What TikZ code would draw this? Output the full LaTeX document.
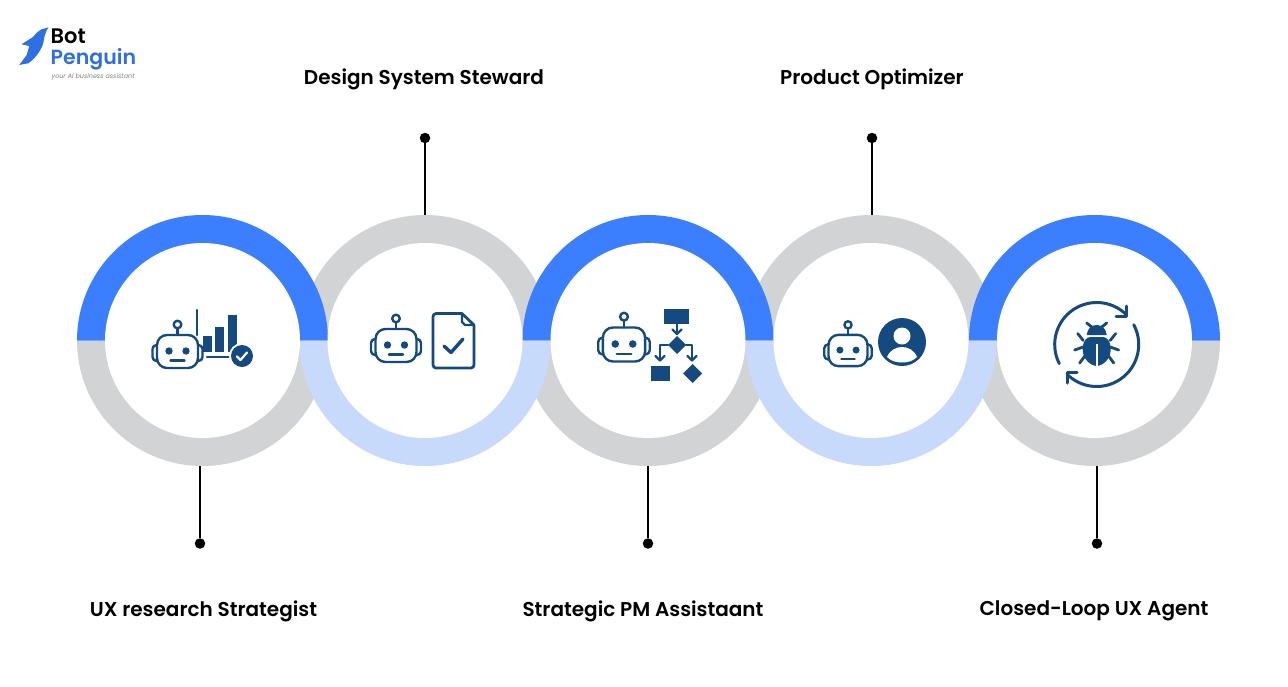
\documentclass[tikz,border=0pt]{standalone}
\usepackage{fontspec}
\setmainfont{Poppins}
\newfontfamily\labfont{Poppins SemiBold}
\newfontfamily\logofont{Poppins SemiBold}
\newfontfamily\tagfont{Poppins}[ItalicFont=* Italic]
\definecolor{ringblue}{HTML}{3B7FFF}
\definecolor{ringlight}{HTML}{C8DAFC}
\definecolor{ringgray}{HTML}{D1D3D4}
\definecolor{iconblue}{HTML}{154A80}
\definecolor{logoblue}{HTML}{2F6FE4}
\tikzset{
  ringfill/.style={fill=#1,draw=none},
  innerdisc/.style={circle,fill=white,draw=none,minimum size=195pt,inner sep=0pt},
  pin/.style={circle,fill=black,draw=none,minimum size=10.5pt,inner sep=0pt},
  pinline/.style={draw=black,line width=1.9pt},
  lab/.style={font=\labfont\fontsize{20}{24}\selectfont,text=black,inner sep=0pt,anchor=center},
  iconline/.style={draw=iconblue,line width=2.4pt,line join=round,line cap=round},
  iconfill/.style={fill=iconblue,draw=none},
  bugline/.style={draw=iconblue,line width=3pt,line cap=round,line join=round},
  logotext/.style={inner sep=0pt,anchor=west}
}
\newcommand{\robotat}[3]{% x, head centre y, scale
  \begin{scope}[shift={(#1,#2)},scale=#3]
    \draw[iconline,rounded corners=4pt] (-20.5,-6.5) -- (-25,-6.5) -- (-25,9.5) -- (-20.5,9.5);
    \draw[iconline,rounded corners=4pt] (20.5,-6.5) -- (25,-6.5) -- (25,9.5) -- (20.5,9.5);
    \draw[iconline,rounded corners=10pt] (-20.5,-16.5) rectangle (20.5,16.5);
    \draw[iconline] (0,-16.5) -- (0,-23);
    \draw[iconline] (0,-27) circle[radius=3.8];
    \fill[iconblue] (-8.5,-0.5) circle[radius=3.7];
    \fill[iconblue] (8.5,-0.5) circle[radius=3.7];
    \draw[iconline] (-7,9) -- (7,9);
  \end{scope}
}
\begin{document}
\begin{tikzpicture}[x=1pt,y=-1pt]
\useasboundingbox[fill=white] (0,0) rectangle (1288,686);

% gray halves: lower of rings 1,3,5 and upper of rings 2,4
\foreach \c in {202.5,648,1094.5}{
  \fill[ringfill=ringgray] (\c-125.5,340.5) arc[start angle=180,end angle=0,radius=125.5] -- cycle;
}
\foreach \c in {425,871}{
  \fill[ringfill=ringgray] (\c-125.5,340.5) arc[start angle=180,end angle=360,radius=125.5] -- cycle;
}
% coloured halves on top
\foreach \c in {202.5,648,1094.5}{
  \fill[ringfill=ringblue] (\c-125.5,340.5) arc[start angle=180,end angle=360,radius=125.5] -- cycle;
}
\foreach \c in {425,871}{
  \fill[ringfill=ringlight] (\c-125.5,340.5) arc[start angle=180,end angle=0,radius=125.5] -- cycle;
}
% inner discs
\node[innerdisc] (r1) at (202.5,340.5) {};
\node[innerdisc] (r2) at (425,340.5) {};
\node[innerdisc] (r3) at (648,340.5) {};
\node[innerdisc] (r4) at (871,340.5) {};
\node[innerdisc] (r5) at (1094.5,340.5) {};

% pins and connectors
\node[pin] (d1) at (200,543.5) {};
\node[pin] (d2) at (425,138) {};
\node[pin] (d3) at (648,543.5) {};
\node[pin] (d4) at (872,138) {};
\node[pin] (d5) at (1097,543.5) {};
\coordinate (e1) at (200,466);
\coordinate (e2) at (425,215);
\coordinate (e3) at (648,466);
\coordinate (e4) at (872,215);
\coordinate (e5) at (1097,466);
\draw[pinline] (d1) -- (e1);
\draw[pinline] (d2) -- (e2);
\draw[pinline] (d3) -- (e3);
\draw[pinline] (d4) -- (e4);
\draw[pinline] (d5) -- (e5);

% labels
\node[lab] (t1) at (203.5,611) {UX research Strategist};
\node[lab] (t2) at (424,79) {Design System Steward};
\node[lab] (t3) at (643,611) {Strategic PM Assistaant};
\node[lab] (t4) at (872,79) {Product Optimizer};
\node[lab] (t5) at (1094,611) {Closed-Loop UX Agent};

% logo
\fill[logoblue] (48.5,27.3) -- (41.7,29.3) .. controls (38,31) and (35,34.5) .. (33,37) -- (21.5,44.3) -- (29.3,46) -- (26.7,55) -- (19.3,65) -- (28.3,63.3) .. controls (33,60) and (40,53) .. (43,44) .. controls (44.5,38) and (44,34) .. (48.5,27.3) -- cycle;
\node[logotext,font=\labfont\fontsize{21}{24}\selectfont,text=black] (lg1) at (50.5,36) {Bot};
\node[logotext,font=\logofont\fontsize{20.5}{24}\selectfont,text=logoblue] (lg2) at (50.5,59) {Penguin};
\node[logotext,font=\tagfont\itshape\fontsize{6.4}{8}\selectfont,text=gray] (lg3) at (51.5,76.5) {your AI business assistant};

% icon 1
\robotat{177.5}{351.5}{1}
\draw[iconline] (197,310) -- (197,335);
\fill[iconfill] (203,336) rectangle (212,352);
\fill[iconfill] (215,327) rectangle (224,352);
\fill[iconfill] (228,315) rectangle (237,352);
\draw[iconline] (207,357) -- (229,357);
\fill[white] (242,356) circle[radius=13];
\fill[iconfill] (242,356) circle[radius=11];
\draw[draw=white,line width=2.2pt,line cap=round,line join=round] (237,356.5) -- (240.5,360) -- (247,352.5);

% icon 2
\robotat{396}{345.5}{1}
\draw[iconline,line width=2.7pt,rounded corners=3pt] (462,313.5) -- (433,313.5) -- (433,368) -- (474,368) -- (474,325);
\draw[iconline,line width=2.7pt] (462,313.5) -- (474,325);
\draw[iconline] (462,313.5) -- (462,322) -- (465,325) -- (474,325);
\draw[draw=iconblue,line width=3.4pt,line cap=round,line join=round] (444,346) -- (451,352.5) -- (463,339);

% icon 3
\robotat{624}{344.5}{1.03}
\fill[iconfill] (664,309) rectangle (689,324);
\draw[iconline,line cap=butt] (677,324) -- (677,333);
\draw[iconline] (672.5,329.5) -- (677,334) -- (681.5,329.5);
\fill[iconfill] (677,336) -- (686,345) -- (677,354) -- (668,345) -- cycle;
\draw[iconline] (668,345) -- (660,345) -- (660,360);
\draw[iconline] (655.5,356) -- (660,360.5) -- (664.5,356);
\draw[iconline] (686,345) -- (692,345) -- (692,360);
\draw[iconline] (687.5,356) -- (692,360.5) -- (696.5,356);
\fill[iconfill] (651,366) rectangle (670,381);
\fill[iconfill] (692.5,364) -- (702,373.5) -- (692.5,383) -- (683,373.5) -- cycle;

% icon 4
\robotat{848}{350.5}{0.95}
\fill[iconfill] (902,342) circle[radius=24];
\fill[white] (902,336) circle[radius=8.5];
\fill[white] (887,357) .. controls (890,350) and (896,347) .. (902,347) .. controls (908,347) and (914,350) .. (917,357) .. controls (913,361) and (908,362.5) .. (902,362.5) .. controls (896,362.5) and (891,361) .. (887,357) -- cycle;

% icon 5: cycle arrows
\begin{scope}[shift={(1096.7,344.5)}]
  \draw[bugline] (153:42) arc[start angle=153,end angle=316,radius=42];
  \draw[bugline] (-28:42) arc[start angle=-28,end angle=133,radius=42];
  \draw[bugline] (29.3,-38.5) -- (29.3,-28.5) -- (19.3,-28.5);
  \draw[bugline] (-29.7,38.5) -- (-29.7,27.5) -- (-19.7,27.5);
  % bug
  \fill[iconblue] (-14,5) .. controls (-14,-4) and (-10,-7.5) .. (-6,-7.5) -- (6,-7.5) .. controls (10,-7.5) and (14,-4) .. (14,5) .. controls (14,14) and (7,21) .. (0,21.5) .. controls (-7,21) and (-14,14) .. (-14,5) -- cycle;
  \draw[draw=white,line width=2pt] (0,-1) -- (0,23);
  \fill[iconblue] (-10,-9.5) .. controls (-9.5,-16) and (-5,-19.5) .. (0,-19.5) .. controls (5,-19.5) and (9.5,-16) .. (10,-9.5) -- cycle;
  \draw[bugline,line width=2.8pt] (-10,-21.5) -- (-5,-17.5);
  \draw[bugline,line width=2.8pt] (10,-21.5) -- (5,-17.5);
  \draw[bugline,line width=2.8pt] (-19,-11) -- (-13.5,-4);
  \draw[bugline,line width=2.8pt] (19,-11) -- (13.5,-4);
  \draw[bugline,line width=2.8pt] (-22,5.5) -- (-13.5,2.5);
  \draw[bugline,line width=2.8pt] (22,5.5) -- (13.5,2.5);
  \draw[bugline,line width=2.8pt] (-17,18.5) -- (-11.5,11);
  \draw[bugline,line width=2.8pt] (17,18.5) -- (11.5,11);
\end{scope}
\end{tikzpicture}
\end{document}
